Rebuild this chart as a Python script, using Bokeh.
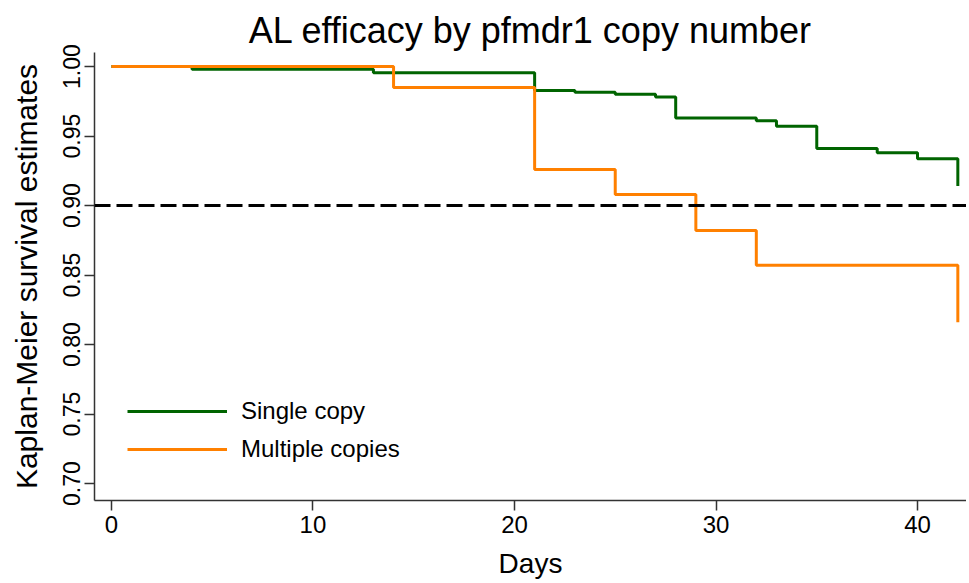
from bokeh.plotting import figure
from bokeh.models import FixedTicker, PrintfTickFormatter, Span, Legend, LegendItem, Range1d, Title
from bokeh.embed import file_html
from bokeh.resources import INLINE

# Kaplan-Meier step data
single_days = [0, 4, 13, 21, 23, 25, 27, 28, 32, 33, 35, 38, 40, 42]
single_surv = [1.0, 0.998, 0.9955, 0.9827, 0.9815, 0.980, 0.978, 0.963, 0.961, 0.957, 0.941, 0.938, 0.9336, 0.914]
multi_days = [0, 14, 21, 25, 29, 32, 42]
multi_surv = [1.0, 0.985, 0.926, 0.908, 0.882, 0.857, 0.816]
threshold = 0.90
x_ticks = [0, 10, 20, 30, 40]
y_ticks = [0.70, 0.75, 0.80, 0.85, 0.90, 0.95, 1.00]
series_names = ["Single copy", "Multiple copies"]
title_text = "AL efficacy by pfmdr1 copy number"

FONT = "Liberation Sans"
GREEN = "#006400"
ORANGE = "#FF8000"

p = figure(width=966, height=582, output_backend="svg", toolbar_location=None,
           x_range=Range1d(-0.84, 42.43), y_range=Range1d(0.6878, 1.0101),
           min_border_left=94, min_border_right=0, min_border_top=52, min_border_bottom=82)
p.outline_line_color = None
p.xgrid.visible = False
p.ygrid.visible = False
p.background_fill_color = "white"
p.border_fill_color = "white"

title = Title(text=title_text, align="center", text_font=FONT, text_font_size="36px",
              text_font_style="normal", text_color="black", standoff=0,
              vertical_align="top")
p.add_layout(title, "above")

p.add_layout(Span(location=threshold, dimension="width", line_color="black",
                  line_width=3, line_dash="16 6"))

r1 = p.step(single_days, single_surv, mode="after", line_color=GREEN, line_width=3)
r2 = p.step(multi_days, multi_surv, mode="after", line_color=ORANGE, line_width=3)

for ax in (p.xaxis[0], p.yaxis[0]):
    ax.axis_line_color = "#333333"
    ax.axis_line_width = 1.5
    ax.major_tick_line_color = "#333333"
    ax.major_tick_line_width = 1.5
    ax.major_tick_out = 10
    ax.major_tick_in = 0
    ax.minor_tick_line_color = None
    ax.major_label_text_font = FONT
    ax.major_label_text_color = "black"
    ax.axis_label_text_font = FONT
    ax.axis_label_text_font_style = "normal"
    ax.axis_label_text_color = "black"

p.xaxis.ticker = FixedTicker(ticks=x_ticks)
p.xaxis.major_label_text_font_size = "24px"
p.xaxis.major_label_standoff = 5
p.xaxis.axis_label = "Days"
p.xaxis.axis_label_text_font_size = "28px"
p.xaxis.axis_label_standoff = 12

p.yaxis.ticker = FixedTicker(ticks=y_ticks)
p.yaxis.formatter = PrintfTickFormatter(format="%.2f")
p.yaxis.major_label_orientation = "vertical"
p.yaxis.major_label_text_font_size = "23px"
p.yaxis.major_label_standoff = 4
p.yaxis.axis_label = "Kaplan-Meier survival estimates"
p.yaxis.axis_label_text_font_size = "30px"
p.yaxis.axis_label_standoff = 18

legend = Legend(items=[LegendItem(label=series_names[0], renderers=[r1]),
                       LegendItem(label=series_names[1], renderers=[r2])],
                location=(33, 36))
legend.glyph_width = 100
legend.glyph_height = 30
legend.spacing = 8
legend.padding = 0
legend.margin = 0
legend.label_standoff = 14
legend.label_text_font = FONT
legend.label_text_font_size = "24px"
legend.label_text_color = "black"
legend.border_line_color = None
legend.background_fill_alpha = 0
p.add_layout(legend, "center")

open("out.html", "w").write(file_html(p, INLINE))
